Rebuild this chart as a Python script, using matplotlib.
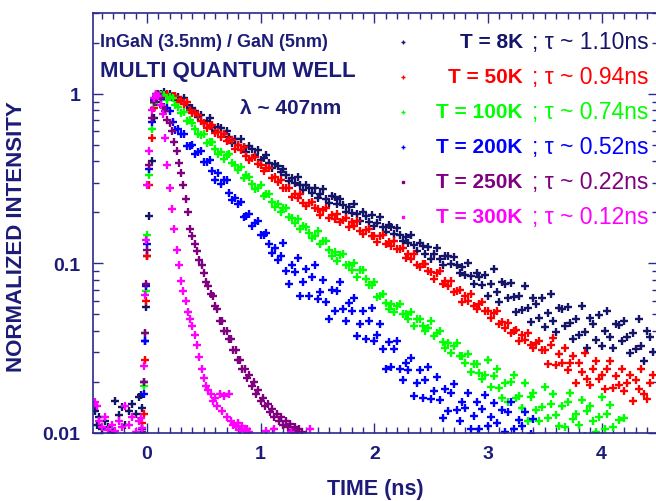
import matplotlib
matplotlib.use("Agg")
import matplotlib.pyplot as plt
from matplotlib import ticker

plt.rcParams['font.family'] = ['Liberation Sans', 'DejaVu Sans']
plt.rcParams['font.weight'] = 'bold'

NAVY = '#1c1c78'

# sample times (ps)
t_pre_ps = [-460, -440, -420, -400, -370, -340, -310, -280, -250, -220,
            -190, -160, -130, -100, -70, -50]
t_rise_ps = [-40, -30, -20, -10, 0, 20, 40, 60, 80, 100, 120]
t_decay_ps = [150, 175, 200, 225, 250, 275, 300, 325, 350, 375,
              400, 425, 450, 475, 500, 525, 550, 575, 600, 625,
              650, 675, 700, 725, 750, 775, 800, 825, 850, 875,
              900, 925, 950, 975, 1000, 1025, 1050, 1075, 1100, 1125,
              1150, 1175, 1200, 1225, 1250, 1275, 1300, 1325, 1350, 1375,
              1400, 1425, 1450, 1475, 1500, 1525, 1550, 1575, 1600, 1625,
              1650, 1675, 1700, 1725, 1750, 1775, 1800, 1825, 1850, 1875,
              1900, 1925, 1950, 1975, 2000, 2025, 2050, 2075, 2100, 2125,
              2150, 2175, 2200, 2225, 2250, 2275, 2300, 2325, 2350, 2375,
              2400, 2425, 2450, 2475, 2500, 2525, 2550, 2575, 2600, 2625,
              2650, 2675, 2700, 2725, 2750, 2775, 2800, 2825, 2850, 2875,
              2900, 2925, 2950, 2975, 3000, 3025, 3050, 3075, 3100, 3125,
              3150, 3175, 3200, 3225, 3250, 3275, 3300, 3325, 3350, 3375,
              3400, 3425, 3450, 3475, 3500, 3525, 3550, 3575, 3600, 3625,
              3650, 3675, 3700, 3725, 3750, 3775, 3800, 3825, 3850, 3875,
              3900, 3925, 3950, 3975, 4000, 4025, 4050, 4075, 4100, 4125,
              4150, 4175, 4200, 4225, 4250, 4275, 4300, 4325, 4350, 4375,
              4400, 4425, 4450]
t_fast_ps = [80, 100, 120, 140, 160, 180, 200, 220, 240, 260,
             280, 300, 320, 340, 360, 380, 400, 420, 440, 460,
             480, 500, 520, 540, 560, 580, 600, 620, 640, 660,
             680, 700, 720, 740, 760, 780, 800, 820, 840, 860,
             880, 900, 920, 940, 960, 980, 1000, 1020, 1040, 1060,
             1080, 1100, 1120, 1140, 1160, 1180, 1200, 1220, 1240, 1260,
             1280, 1300, 1320, 1340, 1360]
t_tail_300k_ps = [1050, 1120, 1270, 1430]

# normalized intensities
pre_8k = [0.0135, 0.0112, 0.0125, 0.0105, 0.0118, 0.0108, 0.0102, 0.0155, 0.0128, 0.0143,
          0.0112, 0.0135, 0.0148, 0.013, 0.0162, 0.0168]
pre_300k = [0.0152, 0.0145, 0.0118, 0.0108, 0.0125, 0.0104, 0.0112, 0.0103, 0.0118, 0.0109,
            0.0145, 0.0112, 0.0124, 0.0102, 0.0117, 0.0122]

rise_8k = [0.014, 0.02, 0.035, 0.055, 0.11, 0.19, 0.40, 0.72, 0.90, 0.97, 1.00]
rise_50k = [0.0115, 0.013, 0.027, 0.06, 0.11, 0.29, 0.55, 0.82, 0.95, 1.00, 0.99]
rise_100k = [0.0105, 0.019, 0.039, 0.069, 0.148, 0.33, 0.62, 0.88, 0.98, 1.00, 0.99]
rise_200k = [0.0105, 0.017, 0.035, 0.074, 0.13, 0.36, 0.68, 0.92, 1.00, 0.99, 0.93]
rise_250k = [0.0102, 0.02, 0.039, 0.076, 0.12, 0.38, 0.72, 0.90]
rise_300k = [0.0107, 0.025, 0.065, 0.137, 0.29, 0.46, 0.80, 0.95]

decay_8k = [1.02, 0.99, 1.0, 0.97, 0.92, 0.96, 0.91, 0.945, 0.86, 0.805,
            0.83, 0.79, 0.735, 0.755, 0.674, 0.69, 0.72, 0.64, 0.60, 0.64,
            0.626, 0.578, 0.60, 0.556, 0.516, 0.54, 0.50, 0.543, 0.487, 0.452,
            0.49, 0.47, 0.436, 0.465, 0.41, 0.419, 0.437, 0.39, 0.366, 0.387,
            0.376, 0.347, 0.361, 0.333, 0.308, 0.321, 0.298, 0.324, 0.29, 0.27,
            0.292, 0.28, 0.26, 0.278, 0.243, 0.255, 0.276, 0.241, 0.228, 0.25,
            0.245, 0.224, 0.24, 0.22, 0.202, 0.216, 0.198, 0.223, 0.195, 0.178,
            0.2, 0.191, 0.176, 0.194, 0.166, 0.174, 0.187, 0.163, 0.153, 0.168,
            0.165, 0.15, 0.162, 0.148, 0.135, 0.144, 0.132, 0.148, 0.129, 0.118,
            0.132, 0.126, 0.114, 0.125, 0.106, 0.113, 0.124, 0.106, 0.098, 0.111,
            0.11, 0.099, 0.109, 0.098, 0.088, 0.0955, 0.086, 0.1, 0.0845, 0.076,
            0.088, 0.0835, 0.075, 0.0855, 0.0645, 0.0754, 0.093, 0.068, 0.0595, 0.0776,
            0.0758, 0.0624, 0.0768, 0.0631, 0.0519, 0.0642, 0.0531, 0.0737, 0.0543, 0.0449,
            0.0624, 0.0578, 0.0478, 0.0628, 0.0422, 0.051, 0.066, 0.0459, 0.0394, 0.0546,
            0.0537, 0.0429, 0.0556, 0.0447, 0.0359, 0.0468, 0.0376, 0.0563, 0.0394, 0.0319,
            0.0479, 0.0442, 0.0355, 0.0498, 0.0328, 0.04, 0.0525, 0.0368, 0.0316, 0.0442,
            0.0436, 0.0351, 0.0458, 0.0368, 0.0295, 0.0387, 0.0313, 0.0468, 0.0327, 0.0265,
            0.0398, 0.037, 0.0299]
decay_50k = [0.99, 1.0, 0.955, 0.966, 0.977, 0.892, 0.922, 0.871, 0.892, 0.803,
             0.767, 0.766, 0.75, 0.692, 0.676, 0.625, 0.65, 0.656, 0.585, 0.595,
             0.56, 0.582, 0.527, 0.531, 0.535, 0.475, 0.497, 0.466, 0.486, 0.429,
             0.408, 0.421, 0.422, 0.385, 0.38, 0.351, 0.366, 0.365, 0.321, 0.325,
             0.304, 0.312, 0.279, 0.278, 0.277, 0.246, 0.258, 0.243, 0.255, 0.227,
             0.219, 0.227, 0.229, 0.211, 0.209, 0.193, 0.207, 0.211, 0.186, 0.193,
             0.182, 0.195, 0.175, 0.18, 0.185, 0.163, 0.175, 0.166, 0.179, 0.156,
             0.149, 0.158, 0.16, 0.145, 0.145, 0.134, 0.145, 0.148, 0.13, 0.134,
             0.127, 0.135, 0.121, 0.122, 0.123, 0.107, 0.114, 0.106, 0.113, 0.0985,
             0.0948, 0.099, 0.0997, 0.09, 0.0891, 0.081, 0.0881, 0.09, 0.0759, 0.079,
             0.0733, 0.0783, 0.0677, 0.0688, 0.07, 0.0594, 0.0646, 0.0603, 0.0664, 0.0563,
             0.0538, 0.0575, 0.059, 0.0525, 0.0525, 0.0474, 0.0513, 0.0521, 0.0437, 0.0452,
             0.0417, 0.0448, 0.0389, 0.0398, 0.0407, 0.0348, 0.038, 0.0355, 0.0391, 0.0331,
             0.0317, 0.0339, 0.0348, 0.0309, 0.0309, 0.0254, 0.0331, 0.0363, 0.0251, 0.0293,
             0.0257, 0.0317, 0.0234, 0.0258, 0.0285, 0.0198, 0.0259, 0.0228, 0.0298, 0.0208,
             0.0193, 0.0239, 0.0266, 0.0209, 0.0219, 0.0182, 0.024, 0.0264, 0.0184, 0.0216,
             0.0191, 0.0237, 0.0176, 0.0196, 0.0219, 0.0154, 0.0204, 0.0181, 0.024, 0.0169,
             0.0158, 0.0198, 0.0221]
decay_100k = [0.99, 0.923, 0.955, 0.945, 0.861, 0.832, 0.776, 0.786, 0.692, 0.70,
              0.676, 0.624, 0.583, 0.572, 0.583, 0.51, 0.522, 0.523, 0.471, 0.44,
              0.455, 0.412, 0.437, 0.44, 0.391, 0.382, 0.354, 0.372, 0.317, 0.331,
              0.324, 0.295, 0.274, 0.279, 0.289, 0.251, 0.255, 0.255, 0.23, 0.215,
              0.223, 0.2, 0.211, 0.211, 0.188, 0.185, 0.174, 0.184, 0.159, 0.167,
              0.163, 0.151, 0.142, 0.145, 0.155, 0.13, 0.135, 0.136, 0.12, 0.111,
              0.117, 0.104, 0.112, 0.113, 0.0977, 0.0977, 0.0913, 0.1, 0.0835, 0.0912,
              0.0913, 0.0813, 0.0743, 0.075, 0.078, 0.0638, 0.0646, 0.0658, 0.0582, 0.0541,
              0.0575, 0.0514, 0.0563, 0.0578, 0.0501, 0.0501, 0.0468, 0.0514, 0.0428, 0.0467,
              0.0468, 0.0427, 0.04, 0.0417, 0.046, 0.0371, 0.0391, 0.0401, 0.0345, 0.0315,
              0.0341, 0.0295, 0.0328, 0.0341, 0.0286, 0.0285, 0.026, 0.0291, 0.023, 0.0255,
              0.0254, 0.0226, 0.0208, 0.022, 0.0269, 0.0186, 0.0216, 0.0237, 0.0184, 0.016,
              0.0197, 0.0153, 0.02, 0.0219, 0.016, 0.0166, 0.0141, 0.0196, 0.0118, 0.0163,
              0.0172, 0.0137, 0.0118, 0.0143, 0.0186, 0.0122, 0.0148, 0.0169, 0.0127, 0.011,
              0.0145, 0.0108, 0.0152, 0.0173, 0.0121, 0.013, 0.0112, 0.0157, 0.0096, 0.0135,
              0.0145, 0.0117, 0.0101, 0.0124, 0.0162, 0.0106, 0.0129, 0.0146, 0.0109, 0.0094,
              0.012, 0.0089, 0.0123]
decay_200k = [0.842, 0.829, 0.796, 0.678, 0.614, 0.623, 0.582, 0.583, 0.491, 0.492,
              0.496, 0.44, 0.455, 0.46, 0.394, 0.396, 0.408, 0.351, 0.31, 0.34,
              0.295, 0.309, 0.31, 0.26, 0.235, 0.242, 0.224, 0.23, 0.187, 0.19,
              0.195, 0.166, 0.174, 0.178, 0.148, 0.148, 0.151, 0.13, 0.115, 0.123,
              0.105, 0.11, 0.132, 0.0901, 0.0759, 0.0978, 0.0891, 0.107, 0.0646, 0.0776,
              0.0933, 0.0646, 0.0832, 0.0977, 0.0617, 0.0676, 0.0795, 0.0589, 0.0468, 0.07,
              0.0525, 0.0684, 0.0776, 0.0536, 0.0457, 0.0582, 0.0525, 0.0624, 0.0372, 0.0441,
              0.0525, 0.0359, 0.0458, 0.0543, 0.0347, 0.0376, 0.0437, 0.0313, 0.024, 0.0343,
              0.0246, 0.0312, 0.0347, 0.024, 0.0204, 0.0259, 0.0234, 0.0278, 0.0166, 0.0197,
              0.0234, 0.016, 0.0205, 0.0245, 0.0159, 0.0178, 0.0214, 0.0157, 0.0123, 0.0181,
              0.0135, 0.0173, 0.0195, 0.0136, 0.0118, 0.0153, 0.0141, 0.0172, 0.0105, 0.0126,
              0.0152, 0.0106, 0.0138, 0.0167, 0.011, 0.0124, 0.0151, 0.0114, 0.0091, 0.0137,
              0.0102, 0.0133, 0.0152, 0.0105, 0.0091, 0.0119, 0.011, 0.0133, 0.0081, 0.0099,
              0.0121]
decay_250k = [0.96, 1.00, 0.94, 0.84, 0.79, 0.70, 0.67, 0.60, 0.52, 0.46,
              0.39, 0.34, 0.29, 0.24, 0.20, 0.16, 0.145, 0.13, 0.118, 0.105,
              0.098, 0.088, 0.078, 0.074, 0.066, 0.064, 0.056, 0.054, 0.046, 0.046,
              0.04, 0.04, 0.036, 0.036, 0.031, 0.031, 0.027, 0.027, 0.024, 0.024,
              0.021, 0.022, 0.019, 0.02, 0.017, 0.018, 0.0155, 0.016, 0.0145, 0.0148,
              0.0133, 0.0138, 0.0125, 0.013, 0.0118, 0.0124, 0.0112, 0.0118, 0.0108, 0.0113,
              0.0104, 0.0109, 0.0102, 0.0106, 0.0101]
decay_300k = [1.00, 0.97, 0.86, 0.76, 0.55, 0.38, 0.28, 0.21, 0.16, 0.12,
              0.098, 0.079, 0.069, 0.060, 0.052, 0.047, 0.043, 0.038, 0.033, 0.028,
              0.024, 0.021, 0.019, 0.018, 0.017, 0.0155, 0.016, 0.0145, 0.017, 0.0135,
              0.0165, 0.0125, 0.017, 0.0118, 0.0112, 0.0108, 0.0115, 0.0104, 0.011, 0.0103,
              0.0106, 0.0102]
tail_300k = [0.0103, 0.0106, 0.0101, 0.0105]

temps = ['T = 8K', 'T = 50K', 'T = 100K', 'T = 200K', 'T = 250K', 'T = 300K']
taus = ['1.10', '0.94', '0.74', '0.52', '0.22', '0.12']
colors = ['#141468', '#ff0000', '#00ff00', '#0000ff', '#800080', '#ff00ff']


def ns(ps_list):
    return [p / 1000.0 for p in ps_list]


series = [
    [(t_pre_ps, pre_8k), (t_rise_ps, rise_8k), (t_decay_ps, decay_8k)],
    [(t_rise_ps, rise_50k), (t_decay_ps, decay_50k)],
    [(t_rise_ps, rise_100k), (t_decay_ps, decay_100k)],
    [(t_rise_ps, rise_200k), (t_decay_ps, decay_200k)],
    [(t_rise_ps, rise_250k), (t_fast_ps, decay_250k)],
    [(t_pre_ps, pre_300k), (t_rise_ps, rise_300k), (t_fast_ps, decay_300k),
     (t_tail_300k_ps, tail_300k)],
]

fig = plt.figure(figsize=(6.56, 5.02), dpi=100)
ax = fig.add_axes([0.1418, 0.1355, 0.861, 0.8367])

for parts, c in zip(series, colors):
    for t_ps, vals in parts:
        n = min(len(t_ps), len(vals))
        ax.plot(ns(t_ps)[:n], vals[:n], linestyle='none', marker='+',
                ms=5.5, mew=1.7, color=c)

ax.set_yscale('log')
ax.set_xlim(-0.475, 4.494)
ax.set_ylim(0.01, 3.0)

ax.xaxis.set_major_locator(ticker.MultipleLocator(1))
ax.xaxis.set_minor_locator(ticker.MultipleLocator(0.1))
ax.yaxis.set_major_locator(ticker.FixedLocator([0.01, 0.1, 1]))
ax.yaxis.set_major_formatter(ticker.FuncFormatter(lambda v, p: '%g' % v))
ax.yaxis.set_minor_locator(ticker.LogLocator(subs=range(2, 10)))
ax.yaxis.set_minor_formatter(ticker.NullFormatter())

for s in ax.spines.values():
    s.set_color('#2a2a8a')
    s.set_linewidth(1.2)
ax.tick_params(which='both', direction='in', top=True, right=True,
               color='#2a2a8a', width=1)
ax.tick_params(which='major', length=7, labelsize=14, labelcolor=NAVY, pad=9)
ax.tick_params(which='minor', length=4)

ax.set_xlabel('TIME (ns)', fontsize=15.5, color=NAVY, fontweight='bold')
ax.set_ylabel('NORMALIZED INTENSITY', fontsize=16, color=NAVY, fontweight='bold')
ax.xaxis.set_label_coords(0.5, -0.108)
ax.yaxis.set_label_coords(-0.117, 0.47)

ax.text(0.012, 0.931, 'InGaN (3.5nm) / GaN (5nm)', transform=ax.transAxes,
        fontsize=13, color=NAVY, va='center', ha='left')
ax.text(0.012, 0.864, 'MULTI QUANTUM WELL', transform=ax.transAxes,
        fontsize=16, color=NAVY, va='center', ha='left')
ax.text(0.26, 0.776, 'λ ~ 407nm', transform=ax.transAxes,
        fontsize=15, color=NAVY, va='center', ha='left')

for i, (lab, tau, c) in enumerate(zip(temps, taus, colors)):
    y = 0.931 - i * 0.0833
    mk = 's' if i >= 4 else '+'
    ax.plot([0.549], [y], transform=ax.transAxes, linestyle='none', marker=mk,
            ms=3 if mk == '+' else 2, mew=1, color=c, clip_on=False)
    ax.text(0.761, y, lab, transform=ax.transAxes, fontsize=15, color=c,
            va='center', ha='right')
    ax.text(0.778, y, '; τ ~ ' + tau + 'ns', transform=ax.transAxes, fontsize=16.5,
            fontweight='normal', color=c, va='center', ha='left')

fig.savefig('out.png', dpi=100)
